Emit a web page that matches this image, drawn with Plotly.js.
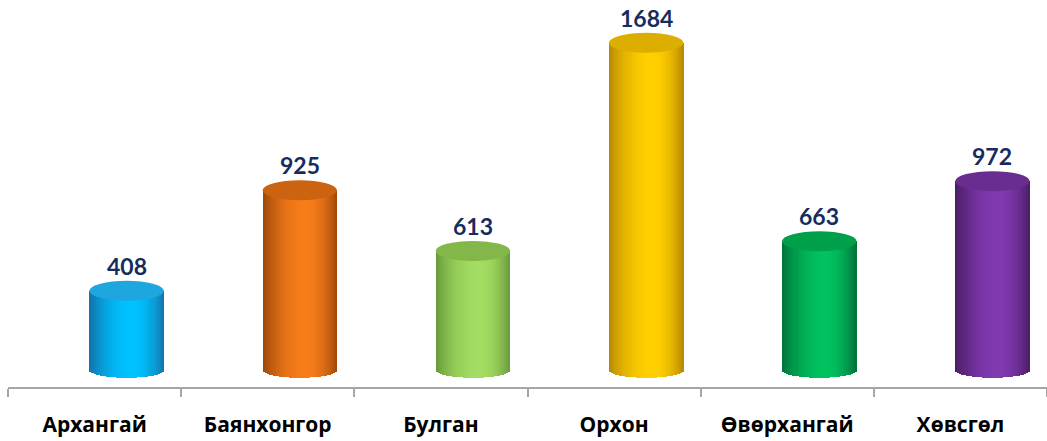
<!DOCTYPE html>
<html>
<head>
<meta charset="utf-8">
<script src="https://cdn.plot.ly/plotly-3.0.1.min.js"></script>
<style>html,body{margin:0;padding:0;background:#fff;}#chart{width:1047px;height:441px;}</style>
</head>
<body>
<div id="chart"></div>
<script>
// ---- data ----
const categories = ["Архангай", "Баянхонгор", "Булган", "Орхон", "Өвөрхангай", "Хөвсгөл"];
const values = [408, 925, 613, 1684, 663, 972];

// ---- styling (not data) ----
const edgeColors   = ["#136fa6", "#9a440a", "#66963a", "#b58600", "#006e36", "#461c60"];
const brightColors = ["#00c2ff", "#f77d18", "#a3de62", "#ffcf00", "#00c25e", "#8139b0"];
const topColors    = ["#1ea6de", "#cc6310", "#84b74a", "#dcae00", "#00a04a", "#692d8f"];
const labelColor = "#172c5e";

const NSTRIP = 36;
const barW = 0.43;      // category units
const barOff = 0.185;   // shift of cylinder to the right (perspective)
const bottomHalf = 40;  // data units, half height of bottom ellipse
const topHalfPx = 10;   // pixels

function hexToRgb(h){h=h.replace('#','');return [parseInt(h.substr(0,2),16),parseInt(h.substr(2,2),16),parseInt(h.substr(4,2),16)];}
function mix(a,b,f){const A=hexToRgb(a),B=hexToRgb(b);return 'rgb('+A.map((v,i)=>Math.round(v+(B[i]-v)*f)).join(',')+')';}

const traces = [];
const sw = barW / NSTRIP;
for (let k = 0; k < NSTRIP; k++) {
  const u = (k + 0.5) / NSTRIP;           // 0..1 across cylinder
  const peak = 0.58;
  let d = u < peak ? (peak - u) / peak : (u - peak) / (1 - peak);
  const f = Math.pow(Math.cos(d * Math.PI / 2), 0.8);
  const sag = bottomHalf * Math.sqrt(Math.max(0, 1 - Math.pow(2 * u - 1, 2)));
  traces.push({
    type: 'bar',
    x: categories,
    y: values.map(v => v + sag),
    base: values.map(() => -sag),
    width: sw * 1.15,
    offset: barOff - barW / 2 + k * sw,
    marker: { color: categories.map((c, i) => mix(edgeColors[i], brightColors[i], f)), line: { width: 0 } },
    hoverinfo: 'skip',
    showlegend: false
  });
}

const shapes = categories.map((c, i) => ({
  type: 'circle', layer: 'above',
  xref: 'x', yref: 'y',
  x0: i + barOff - barW / 2, x1: i + barOff + barW / 2,
  ysizemode: 'pixel', yanchor: values[i], y0: -topHalfPx, y1: topHalfPx,
  fillcolor: topColors[i], line: { width: 0 }
}));

const annotations = categories.map((c, i) => ({
  xref: 'x', yref: 'y', x: i + barOff, y: values[i],
  text: '<b>' + values[i] + '</b>', showarrow: false,
  yanchor: 'bottom', yshift: 9,
  font: { family: 'Lato, "Open Sans", sans-serif', size: 23, color: labelColor }
}));

const layout = {
  width: 1047, height: 441,
  margin: { l: 8, r: 0, t: 5, b: 54 },
  paper_bgcolor: '#ffffff', plot_bgcolor: '#ffffff',
  barmode: 'overlay',
  bargap: 0,
  showlegend: false,
  xaxis: {
    type: 'category',
    categoryorder: 'array', categoryarray: categories,
    range: [-0.5, 5.5],
    showgrid: false, zeroline: false,
    showline: true, linecolor: '#a6a6a6', linewidth: 2,
    ticks: 'outside', tickson: 'boundaries', ticklen: 8, tickcolor: '#a6a6a6', tickwidth: 2,
    ticklabelstandoff: 18,
    tickvals: categories,
    ticktext: categories.map(c => '<b>' + c + '</b>'),
    tickfont: { family: '"Open Sans", sans-serif', size: 21, color: '#000000' }
  },
  yaxis: {
    range: [-87, 1878],
    visible: false, showgrid: false, zeroline: false
  },
  shapes: shapes,
  annotations: annotations
};

Plotly.newPlot('chart', traces, layout, { displayModeBar: false, staticPlot: true });
</script>
</body>
</html>
